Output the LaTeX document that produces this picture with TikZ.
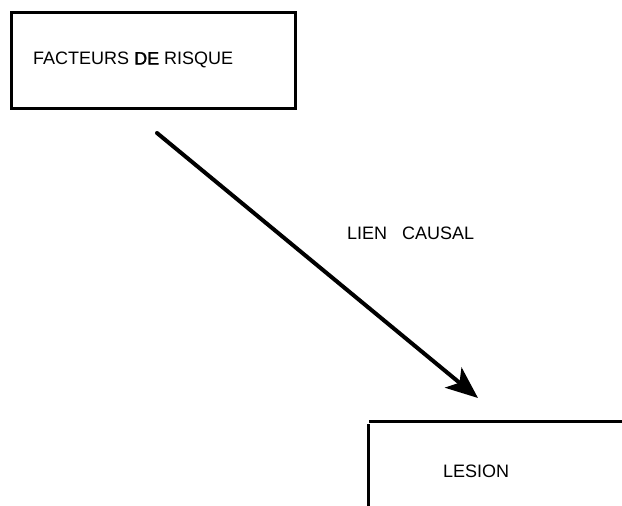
\documentclass[tikz,border=0pt]{standalone}
\usepackage{fontspec}
\setmainfont{Liberation Sans}
\usetikzlibrary{arrows.meta}
\begin{document}
\begin{tikzpicture}[x=1pt,y=-1pt,
  lbl/.style={font=\fontsize{18}{21}\selectfont, inner sep=0pt, anchor=west},
  boxline/.style={line width=3pt},
  causal/.style={line width=4pt, line cap=round, -{Stealth[length=32pt,width=26pt,inset=8pt]}}]
\useasboundingbox (0,0) rectangle (622,506);
\node[draw, boxline, minimum width=284pt, minimum height=96pt, anchor=north west, inner sep=0pt] (fr) at (10,11) {};
\node[lbl] (frt) at (33,60) {FACTEURS {\addfontfeatures{FakeBold=1.5}DE} RISQUE};
\node[lbl] (lc) at (347,233) {LIEN\hspace{15pt}CAUSAL};
\node[lbl] (les) at (443,471) {LESION};
\coordinate (a0) at (157,133);
\coordinate (a1) at (478,398);
\draw[causal] (a0) -- (a1);
\coordinate (l0) at (369,421);
\coordinate (l1) at (622,421);
\coordinate (l2) at (368,424);
\coordinate (l3) at (368,506);
\draw[boxline] (l0) -- (l1);
\draw[boxline] (l2) -- (l3);
\end{tikzpicture}
\end{document}
